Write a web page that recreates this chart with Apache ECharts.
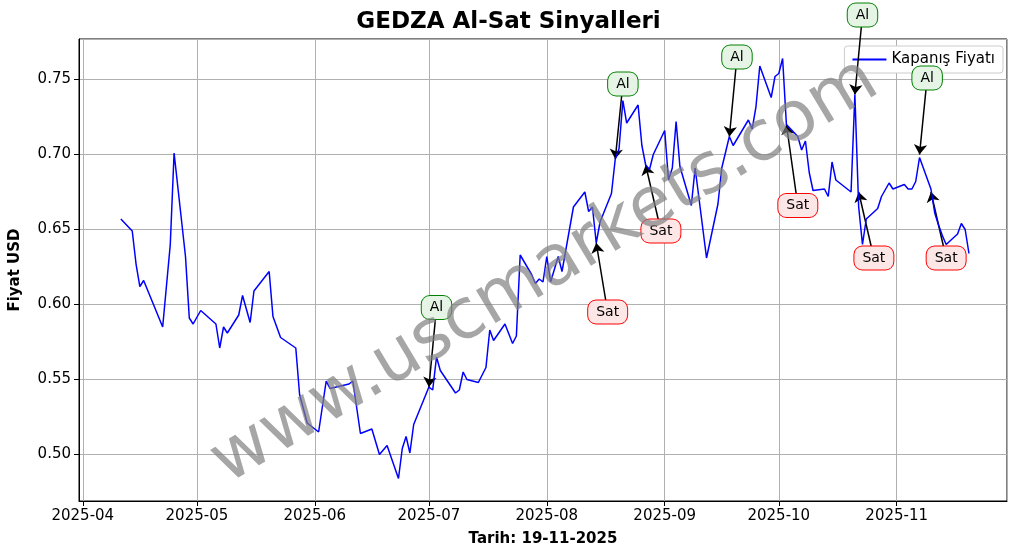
<!DOCTYPE html>
<html>
<head>
<meta charset="utf-8">
<script src="https://cdn.jsdelivr.net/npm/echarts@6/dist/echarts.min.js"></script>
<style>html,body{margin:0;padding:0;background:#fff}#chart{width:1017px;height:556px}</style>
</head>
<body>
<div id="chart"></div>
<script>
// price data
var dates = ['2025-04-11','2025-04-14','2025-04-15','2025-04-16','2025-04-17','2025-04-22','2025-04-24','2025-04-25','2025-04-28','2025-04-29','2025-04-30',
  '2025-05-02','2025-05-06','2025-05-07','2025-05-08','2025-05-09','2025-05-12','2025-05-13','2025-05-15','2025-05-16','2025-05-20','2025-05-21','2025-05-22','2025-05-23','2025-05-27','2025-05-28','2025-05-30',
  '2025-06-02','2025-06-04','2025-06-05','2025-06-10','2025-06-11','2025-06-13','2025-06-16','2025-06-18','2025-06-20','2025-06-23','2025-06-24','2025-06-25','2025-06-26','2025-06-27',
  '2025-07-01','2025-07-02','2025-07-03','2025-07-04','2025-07-08','2025-07-09','2025-07-10','2025-07-11','2025-07-14','2025-07-16','2025-07-17','2025-07-18','2025-07-21','2025-07-23','2025-07-24','2025-07-25','2025-07-28','2025-07-29','2025-07-30','2025-07-31',
  '2025-08-01','2025-08-02','2025-08-04','2025-08-05','2025-08-08','2025-08-11','2025-08-12','2025-08-13','2025-08-14','2025-08-15','2025-08-18','2025-08-19','2025-08-20','2025-08-21','2025-08-22','2025-08-25','2025-08-26','2025-08-27','2025-08-28','2025-08-29',
  '2025-09-01','2025-09-02','2025-09-03','2025-09-04','2025-09-05','2025-09-08','2025-09-09','2025-09-12','2025-09-15','2025-09-16','2025-09-18','2025-09-19','2025-09-23','2025-09-24','2025-09-25','2025-09-26','2025-09-29','2025-09-30',
  '2025-10-01','2025-10-02','2025-10-03','2025-10-06','2025-10-07','2025-10-08','2025-10-09','2025-10-10','2025-10-13','2025-10-14','2025-10-15','2025-10-16','2025-10-20','2025-10-21','2025-10-22','2025-10-23','2025-10-24','2025-10-27','2025-10-28','2025-10-30','2025-10-31',
  '2025-11-03','2025-11-04','2025-11-05','2025-11-06','2025-11-07','2025-11-10','2025-11-11','2025-11-12','2025-11-13','2025-11-14','2025-11-17','2025-11-18','2025-11-19','2025-11-20'];
var prices = [0.657,0.649,0.627,0.612,0.616,0.585,0.640,0.701,0.632,0.591,0.587,
  0.596,0.587,0.571,0.585,0.581,0.593,0.606,0.588,0.609,0.622,0.592,0.585,0.578,0.571,0.540,0.521,
  0.515,0.549,0.544,0.547,0.549,0.514,0.517,0.500,0.506,0.484,0.504,0.512,0.501,0.520,
  0.545,0.543,0.565,0.556,0.541,0.543,0.555,0.550,0.548,0.558,0.583,0.576,0.587,0.574,0.579,0.633,0.620,0.614,0.617,0.615,
  0.632,0.615,0.632,0.622,0.665,0.675,0.662,0.665,0.641,0.655,0.674,0.697,0.704,0.736,0.721,0.733,0.706,0.693,0.690,0.700,
  0.716,0.683,0.691,0.722,0.692,0.666,0.691,0.631,0.667,0.691,0.712,0.706,0.723,0.717,0.732,0.759,0.738,0.752,
  0.754,0.764,0.720,0.712,0.703,0.709,0.688,0.676,0.677,0.672,0.695,0.683,0.675,0.740,0.665,0.640,0.657,0.664,0.672,0.681,0.677,
  0.680,0.677,0.677,0.682,0.698,0.677,0.661,0.653,0.646,0.640,0.647,0.654,0.650,0.634];

// signals: type, point (date,value), label position (date,value)
var sigTypes = ['Al','Sat','Al','Sat','Al','Sat','Al','Sat','Al','Sat'];
var sigPoints = [['2025-07-01',0.545],['2025-08-14',0.641],['2025-08-19',0.697],['2025-08-27',0.693],['2025-09-18',0.712],
  ['2025-10-03',0.720],['2025-10-21',0.740],['2025-10-22',0.675],['2025-11-07',0.700],['2025-11-10',0.675]];
var sigLabels = [['2025-07-03',0.598],['2025-08-17',0.595],['2025-08-21',0.747],['2025-08-31',0.649],['2025-09-20',0.765],
  ['2025-10-06',0.666],['2025-10-23',0.793],['2025-10-26',0.631],['2025-11-09',0.751],['2025-11-14',0.631]];

var chart = echarts.init(document.getElementById('chart'));
var font = 'DejaVu Sans';

var lineData = dates.map(function (d, i) { return [d, prices[i]]; });
var arrows = sigTypes.map(function (t, i) {
    return {coords: [sigLabels[i], sigPoints[i]]};
});
var boxes = sigTypes.map(function (t, i) {
    var buy = t == 'Al';
    return {
        value: sigLabels[i],
        label: {
            show: true, formatter: t, position: 'inside', color: '#000', fontSize: 14, fontFamily: font,
            opacity: 1,
            backgroundColor: buy ? '#e6f4e6' : '#fde6e6',
            borderColor: buy ? '#008000' : '#ff0000', borderWidth: 1, borderRadius: 8,
            padding: [5, 8, 4, 8]
        }
    };
});

var option = {
    animation: false,
    title: {
        text: 'GEDZA Al-Sat Sinyalleri', left: 'center', top: 6,
        textStyle: {fontFamily: font, fontSize: 23, fontWeight: 'bold', color: '#000'}
    },
    legend: {
        right: 14, top: 46, orient: 'vertical', z: 2,
        backgroundColor: '#fff', borderColor: '#ccc', borderWidth: 1, borderRadius: 3,
        padding: [6, 8], itemWidth: 34, itemHeight: 2,
        textStyle: {fontFamily: font, fontSize: 15, color: '#000'},
        data: [{name: 'Kapanış Fiyatı', icon: 'rect'}]
    },
    grid: {left: 78, right: 10, top: 39, bottom: 55, show: true, borderColor: '#000', borderWidth: 1},
    xAxis: {
        type: 'time', min: '2025-03-31', max: '2025-11-30',
        minInterval: 28 * 86400000, maxInterval: 31 * 86400000,
        name: 'Tarih: 19-11-2025', nameLocation: 'middle', nameGap: 31,
        nameTextStyle: {fontFamily: font, fontSize: 15, fontWeight: 'bold', color: '#000'},
        axisLine: {lineStyle: {color: '#000'}},
        axisTick: {show: true, length: 5, lineStyle: {color: '#000'}},
        axisLabel: {fontFamily: font, fontSize: 15, color: '#000', formatter: '{yyyy}-{MM}', hideOverlap: false},
        splitLine: {show: true, lineStyle: {color: '#b0b0b0'}}
    },
    yAxis: {
        type: 'value', min: 0.469, max: 0.777, splitNumber: 6,
        name: 'Fiyat USD', nameLocation: 'middle', nameGap: 56,
        nameTextStyle: {fontFamily: font, fontSize: 15, fontWeight: 'bold', color: '#000'},
        axisLine: {show: true, lineStyle: {color: '#000'}},
        axisTick: {show: true, length: 5, lineStyle: {color: '#000'}},
        axisLabel: {fontFamily: font, fontSize: 15, color: '#000', showMinLabel: false, showMaxLabel: false,
            formatter: function (v) { return v.toFixed(2); }},
        splitLine: {show: true, lineStyle: {color: '#b0b0b0'}}
    },
    series: [{
        name: 'Kapanış Fiyatı', type: 'line', data: lineData, showSymbol: false,
        lineStyle: {color: '#0000ff', width: 1.5}, itemStyle: {color: '#0000ff'}
    }, {
        name: 'oklar', type: 'lines', coordinateSystem: 'cartesian2d', clip: false, silent: true, z: 3,
        symbol: ['none', 'arrow'], symbolSize: 10,
        lineStyle: {color: '#000', width: 1.5, opacity: 1}, data: arrows
    }, {
        name: 'sinyaller', type: 'scatter', clip: false, silent: true, symbolSize: 0, z: 4,
        itemStyle: {opacity: 1}, data: boxes
    }],
    graphic: [{
        type: 'text', rotation: 31 * Math.PI / 180, originX: 545, originY: 272,
        style: {
            text: 'www.uscmarkets.com', x: 545, y: 272, align: 'center', verticalAlign: 'middle',
            font: '70px "DejaVu Sans"', fill: 'rgba(128,128,128,0.7)'
        },
        z: 100
    }]
};
chart.setOption(option);
</script>
</body>
</html>
